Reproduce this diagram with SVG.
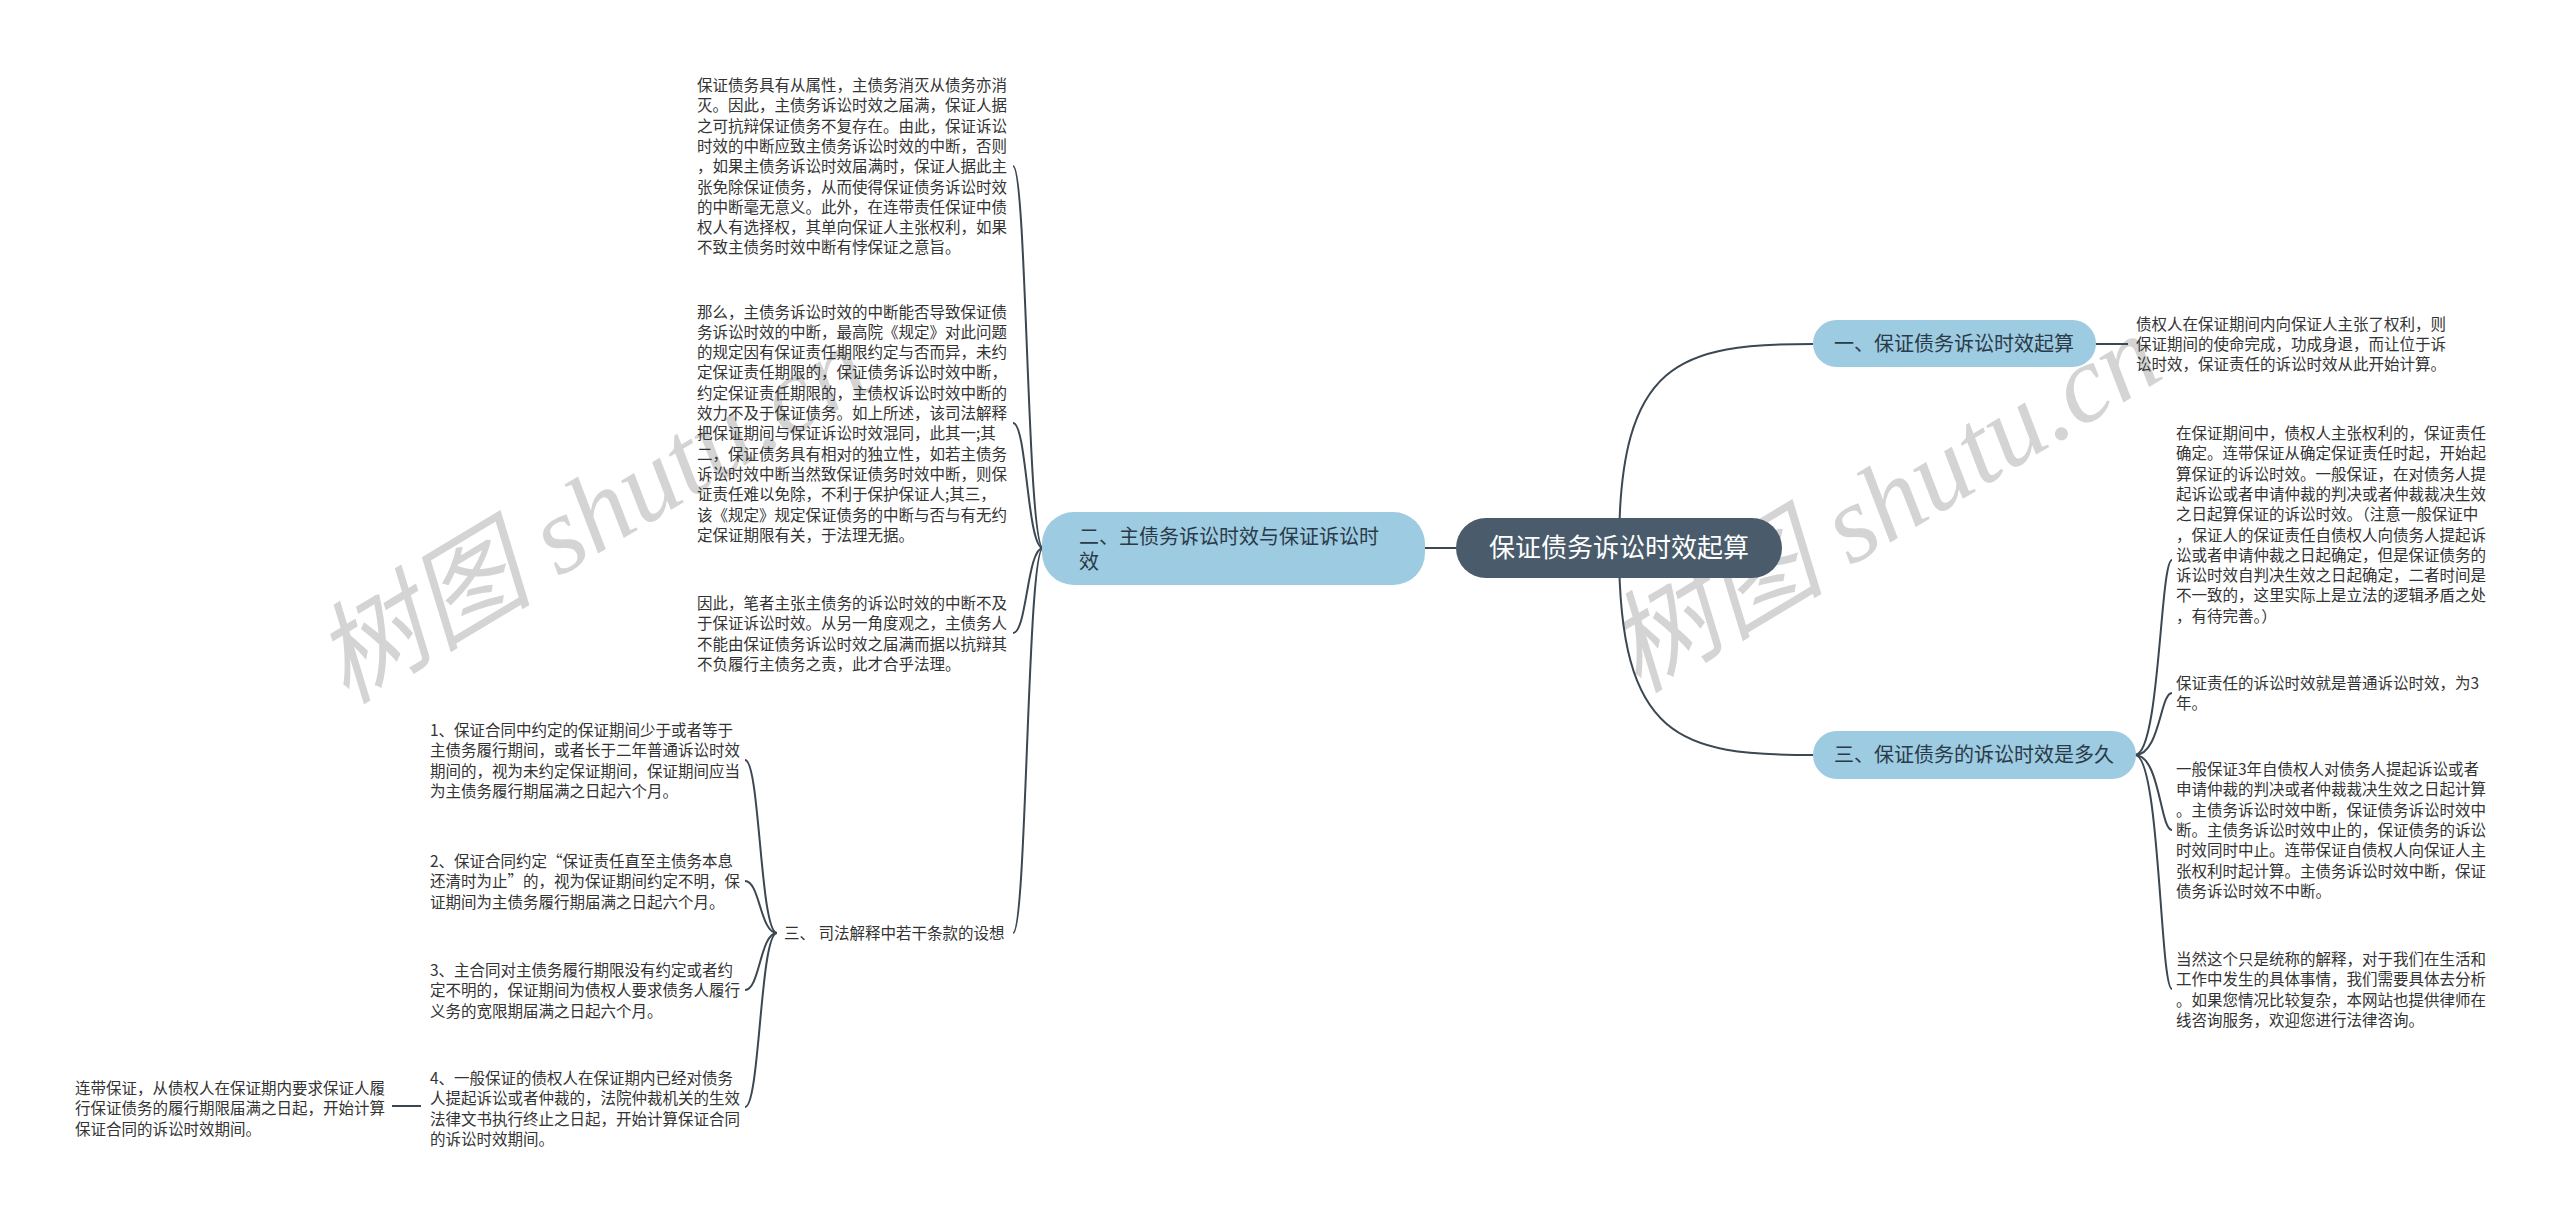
<svg xmlns="http://www.w3.org/2000/svg" width="2560" height="1220" viewBox="0 0 2560 1220">
<style>
.t{font-family:"Noto Sans CJK SC","Noto Sans",sans-serif;font-size:15.5px;fill:#333333}
.c{fill:none;stroke:#3b4753;stroke-width:2}
.sub{fill:#9dcbe1}
.st{font-family:"Noto Sans CJK SC","Noto Sans",sans-serif;font-size:20px;fill:#2b3a48}
.wm{font-family:"Liberation Serif","Noto Sans CJK SC",serif;font-style:italic;font-size:110px;fill:#d4d4d4}
</style>
<rect width="2560" height="1220" fill="#ffffff"/>
<g id="watermark">
<text class="wm" x="346" y="705" transform="rotate(-31 346 705)">树图 shutu.cn</text>
<text class="wm" x="1638" y="694" transform="rotate(-31 1638 694)">树图 shutu.cn</text>
</g>
<g id="connectors">
<path class="c" d="M1619,548 C1619,360 1680,344 1813,344"/>
<path class="c" d="M1619,548 C1619,740 1680,755 1813,755"/>
<path class="c" d="M1456,548 L1425,548"/>
<path class="c" d="M2096,344 L2128,344"/>
<path class="c" d="M1043,548 C1027,548 1027,166 1013,166"/>
<path class="c" d="M1043,548 C1027,548 1027,423 1013,423"/>
<path class="c" d="M1043,548 C1027,548 1027,633 1013,633"/>
<path class="c" d="M1043,548 C1027,548 1027,933 1013,933"/>
<path class="c" d="M777,933 C760,933 760,760 745,760"/>
<path class="c" d="M777,933 C760,933 760,881 745,881"/>
<path class="c" d="M777,933 C760,933 760,990 745,990"/>
<path class="c" d="M777,933 C760,933 760,1107 745,1107"/>
<path class="c" d="M421,1106 L392,1106"/>
<path class="c" d="M2135,755 C2160,755 2160,560 2172,560"/>
<path class="c" d="M2135,755 C2160,755 2160,693 2172,693"/>
<path class="c" d="M2135,755 C2160,755 2160,830 2172,830"/>
<path class="c" d="M2135,755 C2160,755 2160,989 2172,989"/>
</g>
<g id="root">
<rect x="1456" y="518" width="326" height="60" rx="30" fill="#4a5b6b"/>
<text x="1619" y="557" text-anchor="middle" style="font-family:'Noto Sans CJK SC',sans-serif;font-size:26px;fill:#ffffff">保证债务诉讼时效起算</text>
</g>
<g id="node-1">
<rect class="sub" x="1813" y="320" width="283" height="47" rx="23.5"/>
<text class="st" x="1954" y="351" text-anchor="middle">一、保证债务诉讼时效起算</text>
</g>
<g id="node-2">
<rect class="sub" x="1042" y="512" width="383" height="73" rx="32"/>
<text class="st" x="1079" y="544">二、主债务诉讼时效与保证诉讼时<tspan x="1079" dy="25">效</tspan></text>
</g>
<g id="node-3">
<rect class="sub" x="1813" y="731" width="323" height="48" rx="24"/>
<text class="st" x="1974" y="762" text-anchor="middle">三、保证债务的诉讼时效是多久</text>
</g>
<g id="n1-text">
<text class="t" x="2136" y="330">债权人在保证期间内向保证人主张了权利，则<tspan x="2136" dy="20">保证期间的使命完成，功成身退，而让位于诉</tspan><tspan x="2136" dy="20">讼时效，保证责任的诉讼时效从此开始计算。</tspan></text>
</g>
<g id="n2-text1">
<text class="t" x="697" y="91">保证债务具有从属性，主债务消灭从债务亦消<tspan x="697" dy="20.3">灭。因此，主债务诉讼时效之届满，保证人据</tspan><tspan x="697" dy="20.3">之可抗辩保证债务不复存在。由此，保证诉讼</tspan><tspan x="697" dy="20.3">时效的中断应致主债务诉讼时效的中断，否则</tspan><tspan x="697" dy="20.3">，如果主债务诉讼时效届满时，保证人据此主</tspan><tspan x="697" dy="20.3">张免除保证债务，从而使得保证债务诉讼时效</tspan><tspan x="697" dy="20.3">的中断毫无意义。此外，在连带责任保证中债</tspan><tspan x="697" dy="20.3">权人有选择权，其单向保证人主张权利，如果</tspan><tspan x="697" dy="20.3">不致主债务时效中断有悖保证之意旨。</tspan></text>
</g>
<g id="n2-text2">
<text class="t" x="697" y="317.5">那么，主债务诉讼时效的中断能否导致保证债<tspan x="697" dy="20.3">务诉讼时效的中断，最高院《规定》对此问题</tspan><tspan x="697" dy="20.3">的规定因有保证责任期限约定与否而异，未约</tspan><tspan x="697" dy="20.3">定保证责任期限的，保证债务诉讼时效中断，</tspan><tspan x="697" dy="20.3">约定保证责任期限的，主债权诉讼时效中断的</tspan><tspan x="697" dy="20.3">效力不及于保证债务。如上所述，该司法解释</tspan><tspan x="697" dy="20.3">把保证期间与保证诉讼时效混同，此其一;其</tspan><tspan x="697" dy="20.3">二，保证债务具有相对的独立性，如若主债务</tspan><tspan x="697" dy="20.3">诉讼时效中断当然致保证债务时效中断，则保</tspan><tspan x="697" dy="20.3">证责任难以免除，不利于保护保证人;其三，</tspan><tspan x="697" dy="20.3">该《规定》规定保证债务的中断与否与有无约</tspan><tspan x="697" dy="20.3">定保证期限有关，于法理无据。</tspan></text>
</g>
<g id="n2-text3">
<text class="t" x="697" y="609">因此，笔者主张主债务的诉讼时效的中断不及<tspan x="697" dy="20.3">于保证诉讼时效。从另一角度观之，主债务人</tspan><tspan x="697" dy="20.3">不能由保证债务诉讼时效之届满而据以抗辩其</tspan><tspan x="697" dy="20.3">不负履行主债务之责，此才合乎法理。</tspan></text>
</g>
<g id="n2-sub3">
<text class="t" x="784" y="939">三、 司法解释中若干条款的设想</text>
</g>
<g id="item-1">
<text class="t" x="430" y="736">1、保证合同中约定的保证期间少于或者等于<tspan x="430" dy="20.3">主债务履行期间，或者长于二年普通诉讼时效</tspan><tspan x="430" dy="20.3">期间的，视为未约定保证期间，保证期间应当</tspan><tspan x="430" dy="20.3">为主债务履行期届满之日起六个月。</tspan></text>
</g>
<g id="item-2">
<text class="t" x="430" y="867">2、保证合同约定“保证责任直至主债务本息<tspan x="430" dy="20.3">还清时为止”的，视为保证期间约定不明，保</tspan><tspan x="430" dy="20.3">证期间为主债务履行期届满之日起六个月。</tspan></text>
</g>
<g id="item-3">
<text class="t" x="430" y="976">3、主合同对主债务履行期限没有约定或者约<tspan x="430" dy="20.3">定不明的，保证期间为债权人要求债务人履行</tspan><tspan x="430" dy="20.3">义务的宽限期届满之日起六个月。</tspan></text>
</g>
<g id="item-4">
<text class="t" x="430" y="1084">4、一般保证的债权人在保证期内已经对债务<tspan x="430" dy="20.3">人提起诉讼或者仲裁的，法院仲裁机关的生效</tspan><tspan x="430" dy="20.3">法律文书执行终止之日起，开始计算保证合同</tspan><tspan x="430" dy="20.3">的诉讼时效期间。</tspan></text>
</g>
<g id="item-4-child">
<text class="t" x="75" y="1094">连带保证，从债权人在保证期内要求保证人履<tspan x="75" dy="20.3">行保证债务的履行期限届满之日起，开始计算</tspan><tspan x="75" dy="20.3">保证合同的诉讼时效期间。</tspan></text>
</g>
<g id="n3-text1">
<text class="t" x="2176" y="439">在保证期间中，债权人主张权利的，保证责任<tspan x="2176" dy="20.3">确定。连带保证从确定保证责任时起，开始起</tspan><tspan x="2176" dy="20.3">算保证的诉讼时效。一般保证，在对债务人提</tspan><tspan x="2176" dy="20.3">起诉讼或者申请仲裁的判决或者仲裁裁决生效</tspan><tspan x="2176" dy="20.3">之日起算保证的诉讼时效。（注意一般保证中</tspan><tspan x="2176" dy="20.3">，保证人的保证责任自债权人向债务人提起诉</tspan><tspan x="2176" dy="20.3">讼或者申请仲裁之日起确定，但是保证债务的</tspan><tspan x="2176" dy="20.3">诉讼时效自判决生效之日起确定，二者时间是</tspan><tspan x="2176" dy="20.3">不一致的，这里实际上是立法的逻辑矛盾之处</tspan><tspan x="2176" dy="20.3">，有待完善。）</tspan></text>
</g>
<g id="n3-text2">
<text class="t" x="2176" y="689">保证责任的诉讼时效就是普通诉讼时效，为3<tspan x="2176" dy="20">年。</tspan></text>
</g>
<g id="n3-text3">
<text class="t" x="2176" y="775">一般保证3年自债权人对债务人提起诉讼或者<tspan x="2176" dy="20.3">申请仲裁的判决或者仲裁裁决生效之日起计算</tspan><tspan x="2176" dy="20.3">。主债务诉讼时效中断，保证债务诉讼时效中</tspan><tspan x="2176" dy="20.3">断。主债务诉讼时效中止的，保证债务的诉讼</tspan><tspan x="2176" dy="20.3">时效同时中止。连带保证自债权人向保证人主</tspan><tspan x="2176" dy="20.3">张权利时起计算。主债务诉讼时效中断，保证</tspan><tspan x="2176" dy="20.3">债务诉讼时效不中断。</tspan></text>
</g>
<g id="n3-text4">
<text class="t" x="2176" y="965">当然这个只是统称的解释，对于我们在生活和<tspan x="2176" dy="20.3">工作中发生的具体事情，我们需要具体去分析</tspan><tspan x="2176" dy="20.3">。如果您情况比较复杂，本网站也提供律师在</tspan><tspan x="2176" dy="20.3">线咨询服务，欢迎您进行法律咨询。</tspan></text>
</g>
</svg>
